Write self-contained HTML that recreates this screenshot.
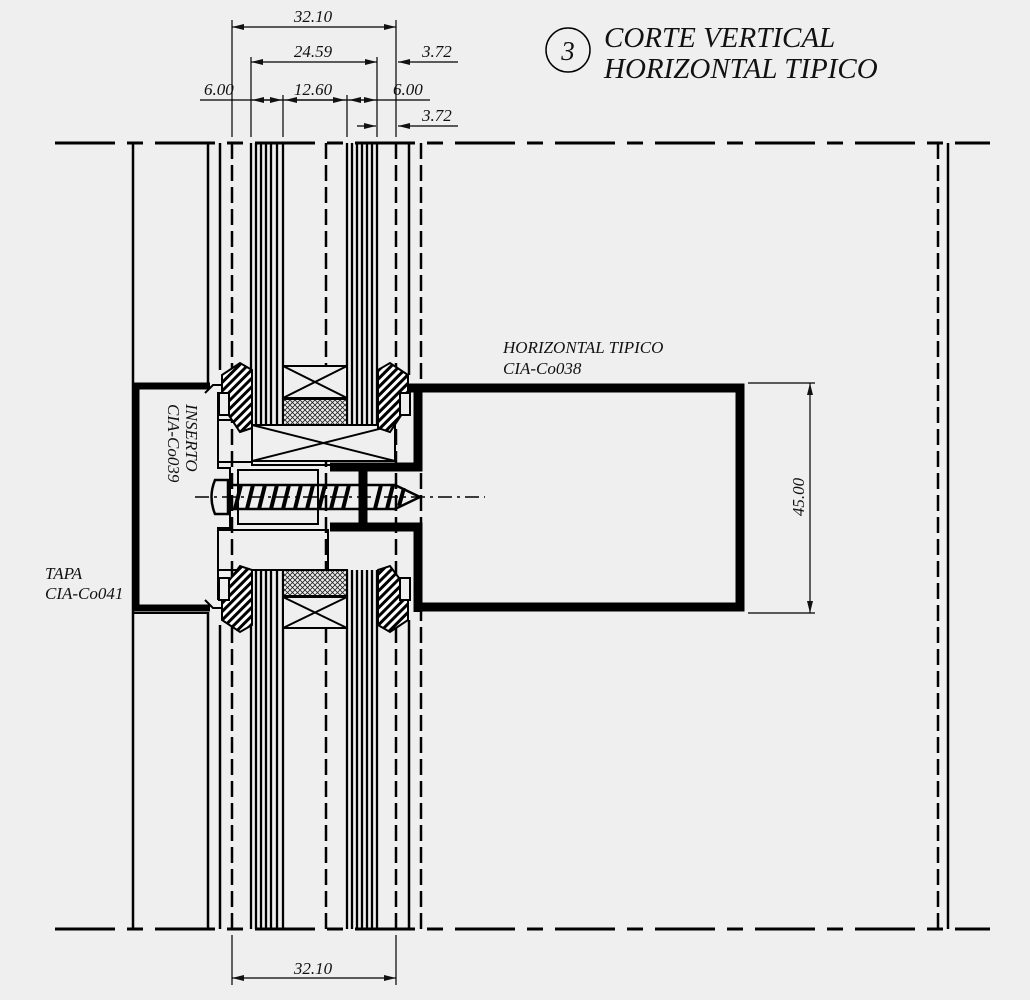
<!DOCTYPE html>
<html><head><meta charset="utf-8"><style>
html,body{margin:0;padding:0;background:#efefef;}
svg{display:block}
text{font-family:"Liberation Serif",serif;font-style:italic;fill:#111}
</style></head><body>
<svg width="1030" height="1000" viewBox="0 0 1030 1000" xmlns="http://www.w3.org/2000/svg">
<defs>
<pattern id="h" width="6" height="6" patternUnits="userSpaceOnUse" patternTransform="rotate(45)">
<rect width="6" height="6" fill="#fff"/><rect width="3" height="6" fill="#000"/></pattern>
<pattern id="x" width="5" height="5" patternUnits="userSpaceOnUse">
<rect width="5" height="5" fill="#eee"/><path d="M0 0L5 5M5 0L0 5" stroke="#222" stroke-width="0.8"/></pattern>
<marker id="a" viewBox="0 0 12 6" refX="12" refY="3" markerWidth="12" markerHeight="6" markerUnits="userSpaceOnUse" orient="auto-start-reverse"><path d="M0 0L12 3L0 6z" fill="#111"/></marker>
</defs>
<rect width="1030" height="1000" fill="#efefef"/>
<g stroke="#000" stroke-width="3" stroke-dasharray="60,12,16,12">
<line x1="55" y1="143" x2="990" y2="143"/>
<line x1="55" y1="929" x2="990" y2="929"/>
</g>
<g stroke="#000" stroke-width="2.5">
<line x1="133" y1="143" x2="133" y2="929"/>
<line x1="948" y1="143" x2="948" y2="929"/>
<line x1="208" y1="143" x2="208" y2="383"/><line x1="208" y1="612" x2="208" y2="929"/>
<line x1="220" y1="143" x2="220" y2="370"/><line x1="220" y1="625" x2="220" y2="929"/>
<line x1="409" y1="143" x2="409" y2="375"/><line x1="409" y1="620" x2="409" y2="929"/>
</g>
<g stroke="#000" stroke-width="2.5" stroke-dasharray="16,6">
<line x1="232" y1="143" x2="232" y2="929"/>
<line x1="326" y1="143" x2="326" y2="929"/>
<line x1="396" y1="143" x2="396" y2="929"/>
<line x1="421" y1="143" x2="421" y2="929"/>
<line x1="938" y1="143" x2="938" y2="929"/>
</g>
<g stroke="#000" stroke-width="2.3">
<path d="M251 143V425M256 143V425M261 143V425M266 143V425M271 143V425M277 143V425M283 143V425"/>
<path d="M251 570V929M256 570V929M261 570V929M266 570V929M271 570V929M277 570V929M283 570V929"/>
<path d="M347 143V425M352 143V425M357 143V425M362 143V425M367 143V425M372 143V425M377 143V425"/>
<path d="M347 570V929M352 570V929M357 570V929M362 570V929M367 570V929M372 570V929M377 570V929"/>
</g>
<g stroke="#000" stroke-width="2" fill="#efefef">
<rect x="283" y="366" width="64" height="32"/><path d="M283 366L347 398M347 366L283 398"/>
<rect x="283" y="399" width="64" height="26" fill="url(#x)"/>
<rect x="252" y="425" width="143" height="36"/><path d="M252 425L395 461M395 425L252 461"/>
<rect x="283" y="570" width="64" height="26" fill="url(#x)"/>
<rect x="283" y="597" width="64" height="31"/><path d="M283 597L347 628M347 597L283 628"/>
</g>
<path d="M210 386H136V608H210" fill="none" stroke="#000" stroke-width="7"/>
<path d="M133 613H208" stroke="#000" stroke-width="2"/>
<g fill="none" stroke="#000" stroke-width="2">
<path d="M218 392V468H230V528H218V600"/>
<rect x="218" y="420" width="34" height="42"/>
<rect x="218" y="530" width="110" height="40"/>
<path d="M330 465H252V461"/>
<rect x="238" y="470" width="80" height="54"/>
<path d="M205 600l8 8h12M205 393l8 -8h12"/>
</g>
<g stroke="#000" stroke-width="2" fill="url(#h)">
<path d="M222 375L240 363L252 370V428L240 432L222 405Z"/>
<path d="M408 375L390 363L378 370V428L390 432L408 405Z"/>
<path d="M222 620L240 632L252 625V570L240 566L222 590Z"/>
<path d="M408 620L390 632L378 625V570L390 566L408 590Z"/>
</g>
<g stroke="#000" stroke-width="2" fill="#efefef">
<rect x="219" y="393" width="10" height="22"/><rect x="219" y="578" width="10" height="22"/>
<rect x="400" y="393" width="10" height="22"/><rect x="400" y="578" width="10" height="22"/>
</g>
<path d="M409 388H740V607H414" fill="none" stroke="#000" stroke-width="9"/>
<path d="M418 386V467H330M418 612V527H330M363 467V527" fill="none" stroke="#000" stroke-width="9"/>
<g stroke="#000" stroke-width="2.5" fill="none">
<path d="M215 480Q208 497 215 514H228V480Z" fill="#efefef"/>
<path d="M228 485H395L420 497L395 509H228"/>
<path d="M235 509L241 485M247 509L253 485M259 509L265 485M271 509L277 485M283 509L289 485M295 509L301 485M307 509L313 485M319 509L325 485M331 509L337 485M343 509L349 485M375 509L381 485M387 509L393 485M399 506L404 488" stroke-width="4"/>
</g>
<path d="M195 497H485" stroke="#000" stroke-width="1.5" stroke-dasharray="14,5,3,5"/>
<g stroke="#000" stroke-width="1.2" fill="none">
<path d="M232 20V137M396 20V137M251 57V137M377 57V137M283 95V137M347 95V137"/>
<line x1="232" y1="27" x2="396" y2="27" marker-start="url(#a)" marker-end="url(#a)"/>
<line x1="251" y1="62" x2="377" y2="62" marker-start="url(#a)" marker-end="url(#a)"/>
<line x1="458" y1="62" x2="398" y2="62" marker-end="url(#a)"/>
<line x1="200" y1="100" x2="430" y2="100"/>
<line x1="270" y1="100" x2="252" y2="100" marker-end="url(#a)"/>
<line x1="270" y1="100" x2="282" y2="100" marker-end="url(#a)"/>
<line x1="315" y1="100" x2="285" y2="100" marker-end="url(#a)"/>
<line x1="315" y1="100" x2="345" y2="100" marker-end="url(#a)"/>
<line x1="362" y1="100" x2="349" y2="100" marker-end="url(#a)"/>
<line x1="362" y1="100" x2="376" y2="100" marker-end="url(#a)"/>
<line x1="357" y1="126" x2="376" y2="126" marker-end="url(#a)"/>
<line x1="458" y1="126" x2="398" y2="126" marker-end="url(#a)"/>
<path d="M748 383H815M748 613H815M232 935V985M396 935V985"/>
<line x1="810" y1="383" x2="810" y2="613" marker-start="url(#a)" marker-end="url(#a)"/>
<line x1="232" y1="978" x2="396" y2="978" marker-start="url(#a)" marker-end="url(#a)"/>
</g>
<g font-size="17">
<text x="313" y="22" text-anchor="middle">32.10</text>
<text x="313" y="57" text-anchor="middle">24.59</text>
<text x="422" y="57">3.72</text>
<text x="204" y="95">6.00</text>
<text x="313" y="95" text-anchor="middle">12.60</text>
<text x="393" y="95">6.00</text>
<text x="422" y="121">3.72</text>
<text x="313" y="974" text-anchor="middle">32.10</text>
<text transform="translate(804,497) rotate(-90)" text-anchor="middle">45.00</text>
<text x="503" y="353">HORIZONTAL TIPICO</text>
<text x="503" y="374">CIA-Co038</text>
<text x="45" y="579">TAPA</text>
<text x="45" y="599">CIA-Co041</text>
<text transform="translate(186,404) rotate(90)">INSERTO</text>
<text transform="translate(168,404) rotate(90)">CIA-Co039</text>
</g>
<circle cx="568" cy="50" r="22" fill="none" stroke="#000" stroke-width="1.5"/>
<text x="568" y="60" font-size="27" text-anchor="middle">3</text>
<text x="604" y="47" font-size="29">CORTE VERTICAL</text>
<text x="604" y="78" font-size="29">HORIZONTAL TIPICO</text>
</svg>
</body></html>
